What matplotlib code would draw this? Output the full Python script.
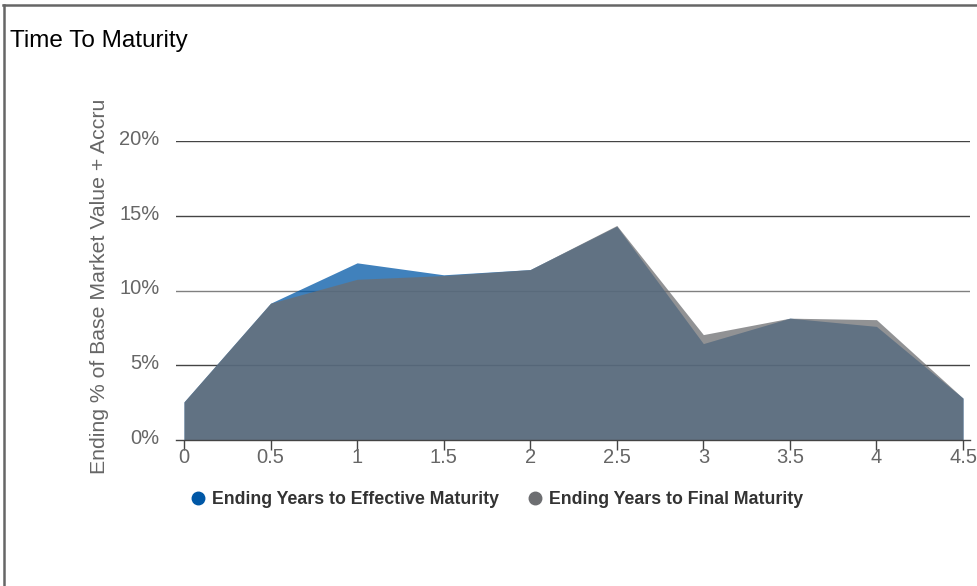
import matplotlib
matplotlib.use("Agg")
import matplotlib.pyplot as plt
import matplotlib.transforms as mtransforms
from matplotlib.lines import Line2D

plt.rcParams['font.family'] = ['Liberation Sans', 'DejaVu Sans']

# Data
x_values = [0, 0.5, 1, 1.5, 2, 2.5, 3, 3.5, 4, 4.5]
x_labels = ["0", "0.5", "1", "1.5", "2", "2.5", "3", "3.5", "4", "4.5"]
effective = [2.55, 9.15, 11.85, 11.05, 11.4, 14.3, 6.45, 8.15, 7.6, 2.8]
final = [2.55, 9.15, 10.75, 11.0, 11.4, 14.35, 7.05, 8.15, 8.05, 2.8]
y_ticks = [0, 5, 10, 15, 20]
series_names = ["Ending Years to Effective Maturity", "Ending Years to Final Maturity"]
series_colors = ["#0057a6", "#6d6e71"]

W, H = 977, 586
fig = plt.figure(figsize=(W / 100, H / 100), dpi=100)
fig.patch.set_facecolor("white")

# axes: gridlines from x=176 to 970, y 0% at 440, 20% at 141
ax = fig.add_axes([176 / W, 1 - 440 / H, (970 - 176) / W, (440 - 141) / H])
px_per_unit = (963 - 184) / 4.5
ax.set_xlim(0 - 8 / px_per_unit, 4.5 + 7 / px_per_unit)
ax.set_ylim(0, 20)

for yv in y_ticks[1:]:
    ax.axhline(yv, color="#808080" if yv == 10 else "#444444", lw=1.0, zorder=1)

ax.fill_between(x_values, 0, effective, color=series_colors[0], alpha=0.75, lw=0, zorder=2)
ax.fill_between(x_values, 0, final, color=series_colors[1], alpha=0.75, lw=0, zorder=3)

for s in ["top", "right", "left"]:
    ax.spines[s].set_visible(False)
ax.spines["bottom"].set_color("#444444")
ax.spines["bottom"].set_linewidth(1.0)
ax.spines["bottom"].set_zorder(4)

ax.set_xticks(x_values)
ax.set_xticklabels(x_labels)
ax.set_yticks(y_ticks)
ax.set_yticklabels([f"{v}%" for v in y_ticks])
ax.tick_params(axis="x", direction="out", length=7.5, width=1, color="#444444",
               pad=-1.5, labelsize=14.5, labelcolor="#666666")
ax.tick_params(axis="y", length=0, pad=12, labelsize=14.5, labelcolor="#666666")
shift = mtransforms.ScaledTranslation(0, 0.035, fig.dpi_scale_trans)
for lbl in ax.get_yticklabels():
    lbl.set_transform(lbl.get_transform() + shift)
ax.set_facecolor("white")

fig.text(100 / W, 1 - 286 / H, "Ending % of Base Market Value + Accru", rotation=90,
         ha="center", va="center", fontsize=15.3, color="#666666")

fig.text(10 / W, 1 - 41 / H, "Time To Maturity", ha="left", va="center",
         fontsize=17.5, color="black")

handles = [Line2D([0], [0], marker="o", linestyle="none", markersize=9,
                  markerfacecolor=c, markeredgecolor=c) for c in series_colors]
leg = fig.legend(handles, series_names, loc="center", ncol=2, frameon=False,
                 bbox_to_anchor=(497 / W, 1 - 500 / H), handlelength=0.8,
                 handletextpad=0.4, columnspacing=1.6,
                 prop={"weight": "bold", "size": 12.8})
for t in leg.get_texts():
    t.set_color("#333333")

# border
fig.add_artist(Line2D([3 / W, 1], [1 - 5 / H, 1 - 5 / H], color="#666666", lw=1.8,
                      transform=fig.transFigure))
fig.add_artist(Line2D([4 / W, 4 / W], [0, 1 - 5 / H], color="#666666", lw=1.8,
                      transform=fig.transFigure))

fig.savefig("out.png", dpi=100, facecolor="white")
